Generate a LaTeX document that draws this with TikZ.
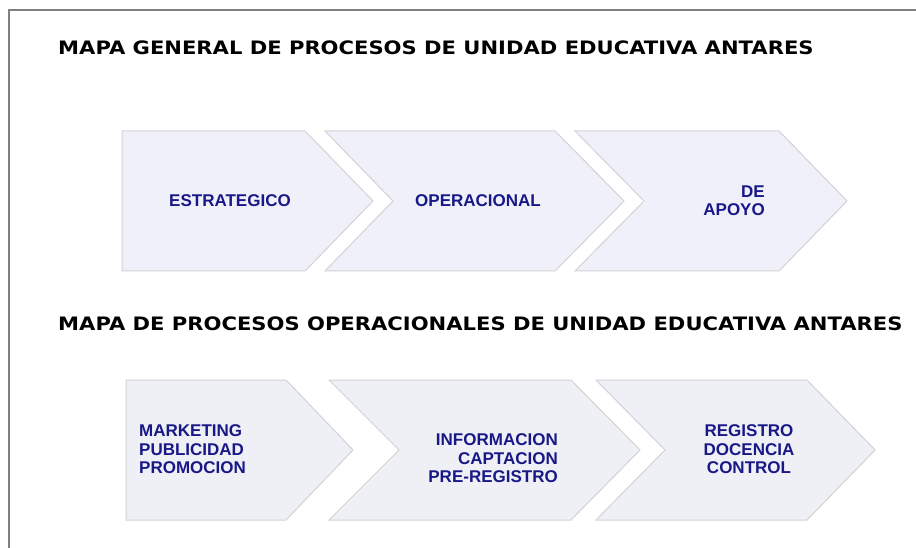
\documentclass[tikz,border=0pt]{standalone}
\usepackage{fontspec}
\newfontfamily\titulofont[FakeStretch=1.14]{DejaVu Sans}
\newfontfamily\cajafont{Liberation Sans}
\definecolor{marcogris}{RGB}{128,128,128}
\definecolor{pasoborde}{RGB}{210,210,214}
\definecolor{pasoarriba}{RGB}{240,240,250}
\definecolor{pasoabajo}{RGB}{239,240,246}
\definecolor{rotuloazul}{RGB}{24,24,135}
\tikzset{
  paso/.style={draw=pasoborde, line width=1pt, line join=miter},
  titulo/.style={anchor=base west, inner sep=0pt, font=\titulofont\bfseries\fontsize{18.5}{20}\selectfont},
  rotulo/.style={inner sep=0pt, text=rotuloazul, font=\cajafont\bfseries\fontsize{17}{18.5}\selectfont}
}

\begin{document}
\begin{tikzpicture}[x=1pt, y=-1pt]
  \useasboundingbox (0,0) rectangle (916,548);
  \fill[white] (0,0) rectangle (916,548);

  % marco
  \draw[marcogris, line width=1.5pt] (9,548) -- (9,10) -- (916,10);

  % titulos
  \node[titulo] (titulogeneral) at (58,55) {MAPA GENERAL DE PROCESOS DE UNIDAD EDUCATIVA ANTARES};
  \node[titulo] (titulooperacional) at (58,330) {MAPA DE PROCESOS OPERACIONALES DE UNIDAD EDUCATIVA ANTARES};

  % procesos generales
  \draw[paso, fill=pasoarriba] (122,131) -- (305,131) -- (373,201) -- (305,271) -- (122,271) -- cycle;
  \draw[paso, fill=pasoarriba] (325,131) -- (555,131) -- (624,201) -- (555,271) -- (325,271) -- (393,201) -- cycle;
  \draw[paso, fill=pasoarriba] (575,131) -- (779,131) -- (847,201) -- (779,271) -- (575,271) -- (644,201) -- cycle;

  \node[rotulo] (estrategico) at (230,201) {ESTRATEGICO};
  \node[rotulo] (operacional) at (478,201) {OPERACIONAL};
  \node[rotulo, anchor=east, align=right] (apoyo) at (765,200.5) {DE\\APOYO};

  % procesos operacionales
  \draw[paso, fill=pasoabajo] (126,380) -- (286,380) -- (353,450) -- (286,520) -- (126,520) -- cycle;
  \draw[paso, fill=pasoabajo] (329,380) -- (571,380) -- (640,450) -- (571,520) -- (329,520) -- (399,450) -- cycle;
  \draw[paso, fill=pasoabajo] (596,380) -- (807,380) -- (875,450) -- (807,520) -- (596,520) -- (665,450) -- cycle;

  \node[rotulo, anchor=west, align=left] (marketing) at (139,449.5) {MARKETING\\PUBLICIDAD\\PROMOCION};
  \node[rotulo, anchor=east, align=right] (informacion) at (558,458.5) {INFORMACION\\CAPTACION\\PRE-REGISTRO};
  \node[rotulo, align=center] (registro) at (749,449.5) {REGISTRO\\DOCENCIA\\CONTROL};
\end{tikzpicture}
\end{document}
